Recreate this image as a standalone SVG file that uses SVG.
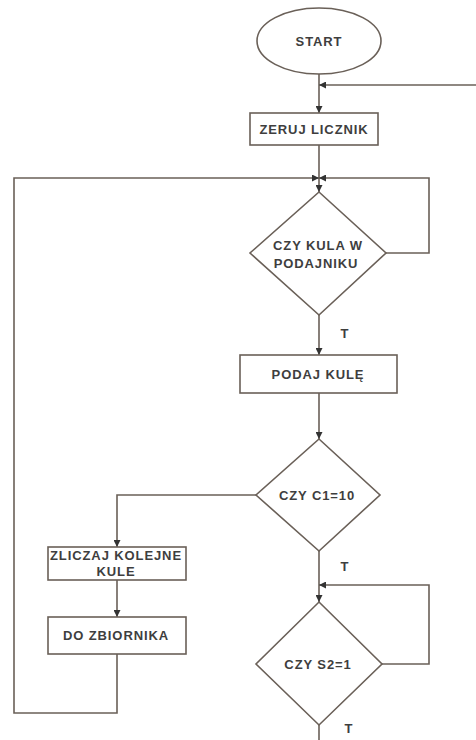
<svg xmlns="http://www.w3.org/2000/svg" width="476" height="740" viewBox="0 0 476 740">
<style>
.s{fill:#fff;stroke:#6a6058;stroke-width:1.6}
.c{fill:none;stroke:#6a6058;stroke-width:1.6}
text{font-family:"Liberation Sans",Arial,sans-serif;font-size:13px;font-weight:bold;fill:#3e3e3e;text-anchor:middle;letter-spacing:0.9px}
</style>
<defs>
<marker id="a" viewBox="0 0 10 10" refX="10" refY="5" markerWidth="7" markerHeight="7" orient="auto" markerUnits="userSpaceOnUse">
<path d="M0,0 L10,5 L0,10 z" fill="#333"/>
</marker>
</defs>
<rect width="476" height="740" fill="#fff"/>
<g id="connectors">
<path class="c" d="M319,74 V113" marker-end="url(#a)"/>
<path class="c" d="M476,85 H319" marker-end="url(#a)"/>
<path class="c" d="M319,145 V192" marker-end="url(#a)"/>
<path class="c" d="M386,253 H429 V178 H319" marker-end="url(#a)"/>
<path class="c" d="M117,654 V713 H14 V178 H319" marker-end="url(#a)"/>
<path class="c" d="M319,315 V355" marker-end="url(#a)"/>
<path class="c" d="M319,393 V439" marker-end="url(#a)"/>
<path class="c" d="M256,495 H117 V547" marker-end="url(#a)"/>
<path class="c" d="M117,580 V617" marker-end="url(#a)"/>
<path class="c" d="M319,551 V602" marker-end="url(#a)"/>
<path class="c" d="M382,664 H429 V585 H319" marker-end="url(#a)"/>
<path class="c" d="M319,725 V740"/>
<text x="345" y="338">T</text>
<text x="345" y="571">T</text>
<text x="349" y="733">T</text>
</g>
<g id="start">
<ellipse class="s" cx="319" cy="41" rx="62" ry="33"/>
<text x="319" y="46">START</text>
</g>
<g id="zeruj">
<rect class="s" x="250" y="113" width="128" height="32"/>
<text x="314" y="134">ZERUJ LICZNIK</text>
</g>
<g id="czy-kula">
<polygon class="s" points="319,192 386,253 319,315 250,253"/>
<text x="318" y="250">CZY KULA W</text>
<text x="316" y="268">PODAJNIKU</text>
</g>
<g id="podaj">
<rect class="s" x="240" y="355" width="157" height="38"/>
<text x="318" y="379">PODAJ KULĘ</text>
</g>
<g id="czy-c1">
<polygon class="s" points="319,439 380,495 319,551 256,495"/>
<text x="317" y="500">CZY C1=10</text>
</g>
<g id="zliczaj">
<rect class="s" x="48" y="547" width="138" height="33"/>
<text x="116" y="560">ZLICZAJ KOLEJNE</text>
<text x="116" y="576">KULE</text>
</g>
<g id="zbiornik">
<rect class="s" x="48" y="617" width="138" height="37"/>
<text x="116" y="640">DO ZBIORNIKA</text>
</g>
<g id="czy-s2">
<polygon class="s" points="319,602 382,664 319,725 256,664"/>
<text x="318" y="669">CZY S2=1</text>
</g>
</svg>
